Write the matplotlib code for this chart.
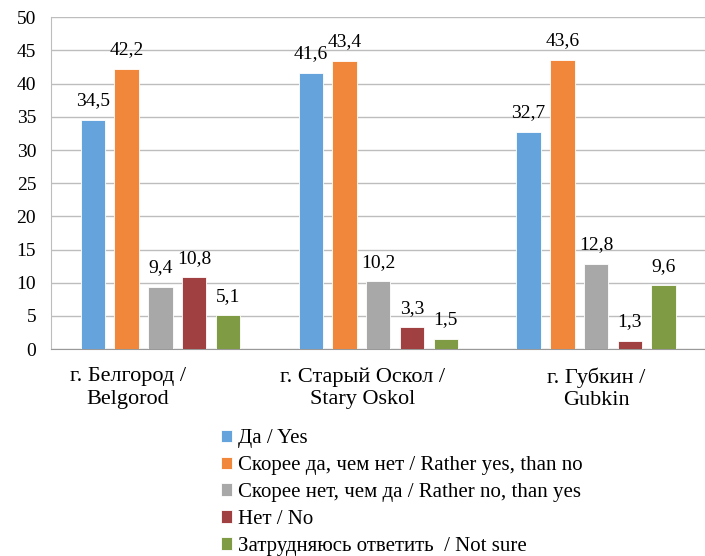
import numpy as np
import matplotlib
matplotlib.use("Agg")
import matplotlib.pyplot as plt

plt.rcParams['font.family'] = ['Liberation Serif', 'DejaVu Serif']

cities = ["г. Белгород /\nBelgorod", "г. Старый Оскол /\nStary Oskol", "г. Губкин /\nGubkin"]
series = [
    "Да / Yes",
    "Скорее да, чем нет / Rather yes, than no",
    "Скорее нет, чем да / Rather no, than yes",
    "Нет / No",
    "Затрудняюсь ответить  / Not sure",
]
yes = [34.5, 41.6, 32.7]
rather_yes = [42.2, 43.4, 43.6]
rather_no = [9.4, 10.2, 12.8]
no = [10.8, 3.3, 1.3]
not_sure = [5.1, 1.5, 9.6]
values = [yes, rather_yes, rather_no, no, not_sure]
colors = ["#64A3DC", "#F0873A", "#A8A8A8", "#A04040", "#7F9C45"]

fig = plt.figure(figsize=(7.05, 5.56), dpi=100)
ax = fig.add_axes([0.073, 0.372, 0.927, 0.597])

x = np.arange(len(cities))
step = 0.155
width = 0.112
for k, (vals, col, name) in enumerate(zip(values, colors, series)):
    pos = x + (k - 2) * step
    bars = ax.bar(pos, vals, width, color=col, edgecolor="white", linewidth=0.6, label=name, zorder=3)
    for b, v in zip(bars, vals):
        ax.text(b.get_x() + b.get_width() / 2, v + 1.6, f"{v:.1f}".replace(".", ","),
                ha="center", va="bottom", fontsize=14)

ax.set_ylim(0, 50)
ax.set_xlim(-0.5, 2.5)
ax.set_yticks(range(0, 51, 5))
ax.yaxis.grid(True, color="#BDBDBD", linewidth=1)
ax.set_axisbelow(True)
for s in ["top", "right"]:
    ax.spines[s].set_visible(False)
ax.spines["left"].set_color("#BDBDBD")
ax.spines["bottom"].set_color("#999999")
ax.tick_params(axis="y", length=0, labelsize=14, pad=11)
ax.tick_params(axis="x", length=0, labelsize=16, pad=13)
# category labels sit a little left of the bar groups in the original
label_shift = np.array([-0.15, -0.07, 0.0])
ax.set_xticks(x + label_shift)
ax.set_xticklabels(cities, linespacing=1.25)

handles, labels = ax.get_legend_handles_labels()
fig.legend(handles, labels, loc="upper left", bbox_to_anchor=(0.313, 0.228),
           frameon=False, fontsize=15, handlelength=0.55, handleheight=0.55,
           handletextpad=0.3, labelspacing=0.38, borderaxespad=0, borderpad=0)

fig.savefig("out.png", dpi=100)
